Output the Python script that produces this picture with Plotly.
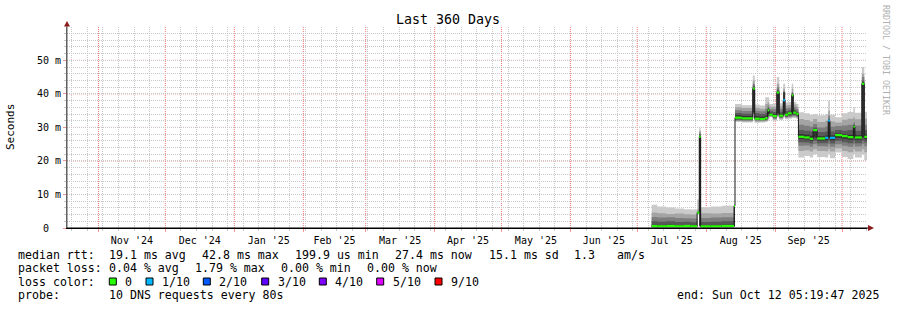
import plotly.graph_objects as go
import pandas as pd

# ---------------- data ----------------
START = "2024-10-17 20:00:00"
END = "2025-10-12 05:19:47"

times = [
    "2025-07-07 12:00", "2025-07-10 00:00", "2025-07-14 00:00", "2025-07-18 00:00",
    "2025-07-22 00:00", "2025-07-25 00:00", "2025-07-27 22:00", "2025-07-28 21:00",
    "2025-07-29 12:00", "2025-08-03 00:00", "2025-08-08 00:00", "2025-08-13 12:00",
    "2025-08-13 22:00", "2025-08-17 00:00", "2025-08-21 22:00", "2025-08-22 19:00",
    "2025-08-25 00:00", "2025-08-27 12:00", "2025-08-28 14:00", "2025-08-29 07:00",
    "2025-08-30 22:00", "2025-09-01 17:00", "2025-09-02 19:00", "2025-09-04 14:00",
    "2025-09-05 10:00", "2025-09-06 17:00", "2025-09-08 10:00", "2025-09-09 02:00",
    "2025-09-10 12:00", "2025-09-11 10:00", "2025-09-14 00:00", "2025-09-16 12:00",
    "2025-09-18 00:00", "2025-09-19 19:00", "2025-09-23 10:00", "2025-09-24 19:00",
    "2025-09-25 14:00", "2025-09-27 22:00", "2025-10-01 00:00", "2025-10-03 12:00",
    "2025-10-06 02:00", "2025-10-06 19:00", "2025-10-09 22:00", "2025-10-11 00:00",
]

# median rtt (ms)
median_ms = [
    0.6, 0.5, 0.6, 0.5, 0.6, 0.5, 4.6, 27.2,
    0.5, 0.5, 0.6, 6.6, 32.9, 32.7, 41.6, 32.6,
    32.5, 32.8, 35.1, 33.8, 33.4, 40.4, 33.5, 38.1,
    33.8, 34.2, 39.6, 34.4, 34.0, 27.2, 27.0, 26.6,
    29.2, 26.7, 26.9, 32.0, 26.9, 27.7, 27.4, 27.1,
    30.2, 27.0, 43.0, 27.2,
]

# packet loss (out of 10)
loss = [
    0, 0, 0, 0, 0, 0, 0, 0,
    0, 0, 0, 0, 0, 0, 0, 0,
    0, 0, 0, 0, 0, 0, 0, 1,
    0, 0, 0, 0, 0, 0, 0, 0,
    0, 0, 1, 1, 1, 0, 0, 0,
    0, 0, 0, 0,
]

# smoke bands (sorted ping ranks), ms
hi1 = [6.9, 6.4, 6.1, 5.8, 5.6, 5.5, 8.5, 30.0, 6.2, 6.4, 6.6, 7.2, 37.0, 36.6, 45.5, 36.8,
       36.5, 39.0, 39.0, 37.0, 37.0, 45.0, 37.2, 43.0, 37.4, 37.6, 43.0, 37.6, 37.0, 34.5,
       34.2, 33.8, 34.0, 33.6, 34.0, 38.0, 33.8, 33.0, 34.2, 34.6, 36.0, 34.4, 48.0, 34.7]
hi2 = [4.6, 4.4, 4.2, 4.3, 4.1, 4.0, 5.6, 29.0, 4.4, 4.3, 4.5, 7.0, 36.0, 35.8, 44.0, 35.9,
       35.6, 37.0, 37.5, 36.2, 36.2, 43.0, 36.3, 41.5, 36.5, 36.7, 41.5, 36.8, 36.2, 32.5,
       32.2, 31.8, 32.5, 31.6, 32.0, 35.0, 31.8, 31.5, 32.3, 32.6, 33.0, 32.4, 46.0, 32.6]
hi3 = [3.3, 3.1, 3.2, 3.0, 2.9, 2.8, 5.0, 28.5, 3.0, 3.1, 3.2, 6.9, 35.1, 34.9, 43.0, 35.0,
       34.8, 35.5, 36.5, 35.4, 35.4, 42.0, 35.5, 40.8, 35.7, 35.9, 40.5, 36.0, 35.4, 30.8,
       30.5, 30.2, 31.0, 30.0, 30.3, 33.5, 30.2, 30.4, 30.6, 30.8, 31.5, 30.6, 45.0, 30.8]
hi4 = [2.0, 1.9, 2.0, 1.8, 1.9, 1.7, 4.8, 28.0, 1.8, 1.9, 2.0, 6.8, 34.3, 34.1, 42.5, 34.2,
       34.0, 34.4, 35.8, 34.8, 34.6, 41.2, 34.7, 40.6, 34.9, 35.1, 40.2, 35.2, 34.7, 29.2,
       29.0, 28.8, 30.0, 28.6, 28.8, 32.6, 28.8, 29.2, 29.0, 29.2, 30.8, 29.0, 44.0, 29.2]
hi5 = [1.0, 0.9, 1.0, 0.9, 0.9, 0.8, 4.7, 27.5, 0.9, 0.9, 1.0, 6.7, 33.6, 33.4, 42.0, 33.3,
       33.2, 33.5, 35.6, 34.2, 33.9, 40.8, 34.0, 40.4, 34.2, 34.6, 40.0, 34.8, 34.3, 28.0,
       27.8, 27.5, 29.5, 27.4, 27.6, 32.3, 27.6, 28.2, 27.9, 27.8, 30.6, 27.7, 43.5, 27.9]
lo5 = [0.4, 0.4, 0.4, 0.4, 0.4, 0.4, 4.5, 0.7, 0.4, 0.4, 0.4, 0.6, 32.5, 32.4, 34.5, 32.4,
       32.3, 32.5, 34.0, 33.6, 33.1, 34.2, 33.2, 34.2, 33.4, 33.8, 34.0, 34.0, 33.6, 26.6,
       26.4, 26.0, 27.0, 26.1, 26.2, 26.8, 26.2, 26.9, 26.6, 26.3, 27.0, 26.3, 27.0, 26.5]
lo4 = [0.3, 0.3, 0.3, 0.3, 0.3, 0.3, 4.4, 0.6, 0.3, 0.3, 0.3, 0.5, 32.3, 32.2, 34.2, 32.2,
       32.2, 32.3, 33.5, 33.5, 32.9, 33.9, 33.0, 33.9, 33.2, 33.5, 33.7, 33.7, 33.4, 25.6,
       25.5, 25.2, 26.0, 25.3, 25.3, 26.0, 25.2, 26.0, 25.6, 25.3, 26.0, 25.3, 26.0, 25.5]
lo3 = [0.2, 0.2, 0.2, 0.2, 0.2, 0.2, 4.3, 0.5, 0.2, 0.2, 0.2, 0.4, 32.1, 32.0, 34.0, 32.0,
       32.0, 32.1, 33.0, 33.4, 32.6, 33.6, 32.8, 33.6, 33.0, 33.2, 33.4, 33.4, 33.1, 24.5,
       24.6, 24.2, 25.0, 24.4, 24.3, 25.0, 24.2, 25.0, 24.5, 24.2, 25.0, 24.3, 25.0, 24.4]
lo2 = [0.15, 0.15, 0.15, 0.15, 0.15, 0.15, 4.2, 0.4, 0.15, 0.15, 0.15, 0.3, 31.9, 31.8, 33.8, 31.7,
       31.8, 31.9, 32.5, 33.2, 32.3, 33.3, 32.5, 33.3, 32.7, 32.9, 33.1, 33.1, 32.8, 23.0,
       23.2, 22.8, 23.5, 23.0, 22.9, 23.5, 22.8, 23.8, 23.0, 22.6, 23.5, 22.8, 23.5, 22.6]
lo1 = [0.1, 0.1, 0.1, 0.1, 0.1, 0.1, 4.0, 0.3, 0.1, 0.1, 0.1, 0.2, 31.6, 31.5, 33.0, 31.4,
       31.5, 31.6, 32.0, 33.0, 32.0, 33.0, 32.2, 33.0, 32.4, 32.6, 32.8, 32.8, 32.5, 21.0,
       21.5, 21.0, 22.0, 21.2, 21.0, 22.0, 20.8, 22.5, 21.2, 20.6, 22.0, 21.0, 22.0, 20.2]

smoke_colors = ["#cacaca", "#a4a4a4", "#7e7e7e", "#585858", "#323232"]

loss_labels = ["0", "1/10", "2/10", "3/10", "4/10", "5/10", "9/10"]
loss_colors = ["#26ff00", "#00b8ff", "#0059ff", "#5e00ff", "#7e00ff", "#dd00ff", "#ff0000"]
loss_index = {0: 0, 1: 1, 2: 2, 3: 3, 4: 4, 5: 5, 9: 6}

y_tickvals = [0, 10, 20, 30, 40, 50]
y_ticktext = ["0\u00a0\u00a0", "10\u00a0m", "20\u00a0m", "30\u00a0m", "40\u00a0m", "50\u00a0m"]

title = "Last 360 Days"
stats_rtt = ["median rtt:", "19.1 ms avg", "42.8 ms max", "199.9 us min", "27.4 ms now",
             "15.1 ms sd", "1.3", "am/s"]
stats_loss = ["packet loss:", "0.04 % avg", "1.79 % max", "0.00 % min", "0.00 % now"]
probe_text = ["probe:", "10 DNS requests every 80s"]
end_text = "end: Sun Oct 12 05:19:47 2025"

# ---------------- figure ----------------
W, H = 897, 310
L, R, T, B = 67, 30, 27, 82
PW, PH = W - L - R, H - T - B


def px(x):
    return (x - L) / PW


def py(y):
    return (T + PH - y) / PH


x_ext = times + [END]


def ext(v):
    return list(v) + [v[-1]]


fig = go.Figure()

bands = [(lo1, hi1), (lo2, hi2), (lo3, hi3), (lo4, hi4), (lo5, hi5)]
for (lo, hi), col in zip(bands, smoke_colors):
    fig.add_trace(go.Scatter(x=x_ext, y=ext(lo), mode="lines",
                             line=dict(width=0, shape="hv"), hoverinfo="skip"))
    fig.add_trace(go.Scatter(x=x_ext, y=ext(hi), mode="lines",
                             line=dict(width=0, shape="hv"), fill="tonexty",
                             fillcolor=col, hoverinfo="skip"))

# dark connector of the median
fig.add_trace(go.Scatter(x=x_ext, y=ext(median_ms), mode="lines",
                         line=dict(width=1, color="#1a1a1a", shape="hv"), hoverinfo="skip"))

# loss-coloured median segments
for lv in sorted(set(loss)):
    xs, ys = [], []
    for i, m in enumerate(median_ms):
        if loss[i] == lv:
            xs += [x_ext[i], x_ext[i + 1], None]
            ys += [m, m, None]
    fig.add_trace(go.Scatter(x=xs, y=ys, mode="lines",
                             line=dict(width=2.2, color=loss_colors[loss_index[lv]]),
                             connectgaps=False, hoverinfo="skip"))

MGRID = "rgb(242,120,120)"
GRID = "rgb(200,200,200)"
MONO = "DejaVu Sans Mono"

fig.update_layout(
    width=W, height=H, margin=dict(l=L, r=R, t=T, b=B),
    paper_bgcolor="white", plot_bgcolor="white", showlegend=False,
    font=dict(family=MONO, size=10, color="#000"),
    xaxis=dict(
        type="date", range=[START, END],
        tickmode="linear", tick0="2024-11-01", dtick="M1",
        ticklabelmode="period", tickformat="%b '%y",
        showgrid=False,
        ticks="outside", ticklen=3, tickcolor="rgb(245,150,150)",
        showline=True, linecolor="#000", linewidth=1, zeroline=False,
        tickfont=dict(family=MONO, size=10, color="#000"),
        minor=dict(dtick=7 * 86400000, tick0="2024-10-20", showgrid=True,
                   gridcolor=GRID, griddash="1px,1px", ticks="outside",
                   ticklen=2, tickcolor=GRID),
    ),
    yaxis=dict(
        range=[0, 59.95], tickmode="array", tickvals=y_tickvals, ticktext=y_ticktext,
        showgrid=False,
        zeroline=False, showline=True, linecolor="#606060", linewidth=1,
        ticks="outside", ticklen=3, tickcolor="rgb(245,150,150)",
        tickfont=dict(family=MONO, size=10, color="#000"),
        minor=dict(dtick=2, showgrid=True, gridcolor=GRID, griddash="1px,1px",
                   ticks="outside", ticklen=2, tickcolor=GRID),
    ),
)

shapes = []
# major (red) grid lines, drawn above the minor grid but below the data
for m in pd.date_range("2024-11-01", "2025-10-01", freq="MS"):
    shapes.append(dict(type="line", xref="x", yref="paper",
                       x0=m.strftime("%Y-%m-%d"), x1=m.strftime("%Y-%m-%d"), y0=0, y1=1,
                       layer="between",
                       line=dict(color=MGRID, width=1, dash="1px,1px")))
for v in y_tickvals[1:]:
    shapes.append(dict(type="line", xref="paper", yref="y", x0=0, x1=1, y0=v, y1=v,
                       layer="between",
                       line=dict(color=MGRID, width=1, dash="1px,1px")))

ann = []
ann.append(dict(text=title, x=px(448), y=py(19.5), xanchor="center", yanchor="middle",
                font=dict(family=MONO, size=13.3, color="#000")))
ann.append(dict(text="Seconds", x=px(11), y=py(127), xanchor="center", yanchor="middle",
                textangle=-90, font=dict(family=MONO, size=11, color="#000")))
ann.append(dict(text="RRDTOOL / TOBI OETIKER", x=px(886), y=py(60), xanchor="center",
                yanchor="middle", textangle=90, font=dict(family=MONO, size=8.3, color="#b0b0b0")))

LEG = 11.6
row1_x = [16, 107.3, 200, 293.3, 393.3, 486.7, 571.7, 615]
row2_x = [16, 107.3, 192.7, 279.3, 365]
for t, xx in zip(stats_rtt, row1_x):
    ann.append(dict(text=t, x=px(xx), y=py(255), xanchor="left", yanchor="middle",
                    font=dict(family=MONO, size=LEG, color="#000")))
for t, xx in zip(stats_loss, row2_x):
    ann.append(dict(text=t, x=px(xx), y=py(268.3), xanchor="left", yanchor="middle",
                    font=dict(family=MONO, size=LEG, color="#000")))
ann.append(dict(text="loss color:", x=px(16), y=py(281.7), xanchor="left", yanchor="middle",
                font=dict(family=MONO, size=LEG, color="#000")))
sq_x = [109.3, 146, 203.3, 261.7, 319.3, 376.7, 435]
for lab, col, sx in zip(loss_labels, loss_colors, sq_x):
    shapes.append(dict(type="rect", xref="paper", yref="paper",
                       x0=px(sx), x1=px(sx + 7), y0=py(285), y1=py(278),
                       fillcolor=col, line=dict(color="#000", width=1)))
    ann.append(dict(text=lab, x=px(sx + 14), y=py(281.7), xanchor="left", yanchor="middle",
                    font=dict(family=MONO, size=LEG, color="#000")))
for t, xx in zip(probe_text, [16, 107.3]):
    ann.append(dict(text=t, x=px(xx), y=py(295), xanchor="left", yanchor="middle",
                    font=dict(family=MONO, size=LEG, color="#000")))
ann.append(dict(text=end_text, x=px(881), y=py(295), xanchor="right", yanchor="middle",
                font=dict(family=MONO, size=LEG, color="#000")))

for a in ann:
    a.update(xref="paper", yref="paper", showarrow=False)

ARROW = "#8b1a1a"
# axis extensions and arrows
shapes.append(dict(type="line", xref="paper", yref="paper", x0=px(67), x1=px(67),
                   y0=py(228), y1=py(24), line=dict(color="#606060", width=1)))
shapes.append(dict(type="line", xref="paper", yref="paper", x0=px(67), x1=px(870),
                   y0=py(228), y1=py(228), line=dict(color="#000", width=1)))
shapes.append(dict(type="path", xref="paper", yref="paper",
                   path=f"M {px(64)} {py(26.5)} L {px(67)} {py(21)} L {px(70)} {py(26.5)} Z",
                   fillcolor=ARROW, line=dict(color=ARROW, width=0)))
shapes.append(dict(type="path", xref="paper", yref="paper",
                   path=f"M {px(868)} {py(225)} L {px(874)} {py(228)} L {px(868)} {py(231)} Z",
                   fillcolor=ARROW, line=dict(color=ARROW, width=0)))

fig.update_layout(annotations=ann, shapes=shapes)
fig.write_html("out.html")
